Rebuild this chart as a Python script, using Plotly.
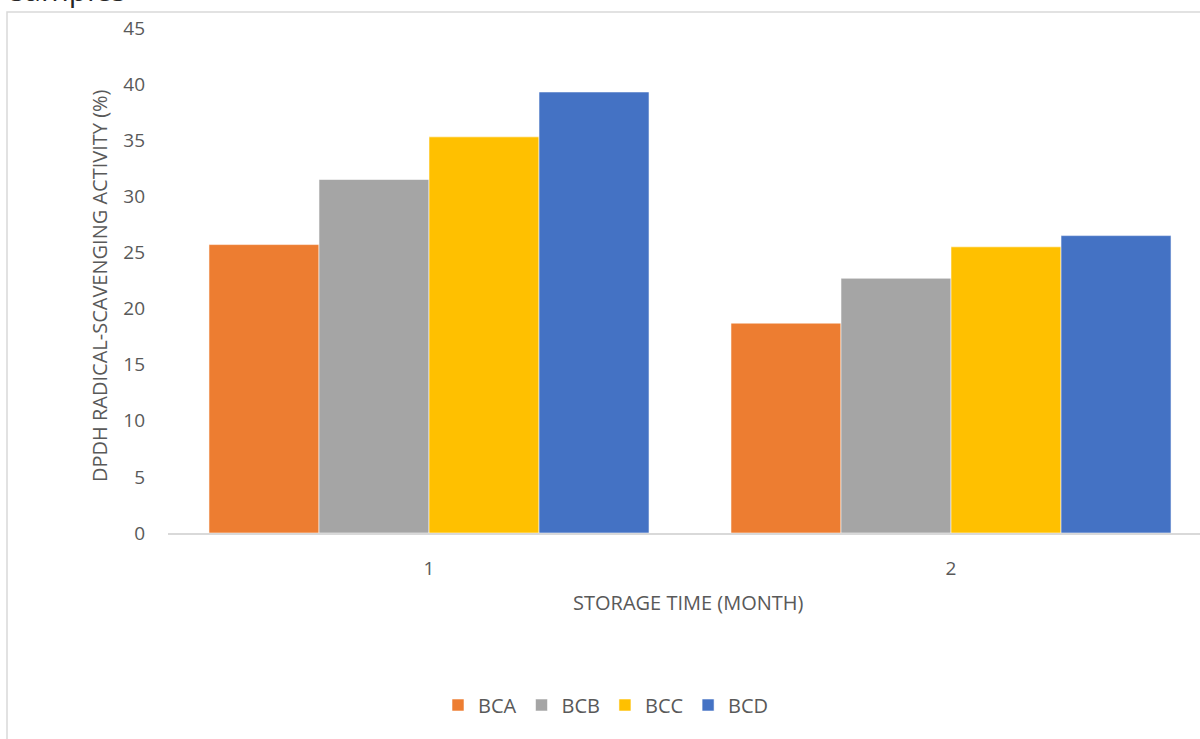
import plotly.graph_objects as go

# Storage time categories (months) and DPPH scavenging activity per formulation
months = ["1", "2"]
series_names = ["BCA", "BCB", "BCC", "BCD"]
bca = [25.7, 18.7]
bcb = [31.5, 22.7]
bcc = [35.3, 25.5]
bcd = [39.3, 26.5]
y_ticks = [0, 5, 10, 15, 20, 25, 30, 35, 40, 45]

colors = ["#ED7D31", "#A5A5A5", "#FFC000", "#4472C4"]
font_family = "Open Sans, Liberation Sans, sans-serif"
text_color = "#595959"
fs = 19

W, H = 1200, 739
left, right, top, bottom = 168, 0, 28, 206
plot_w = W - left - right
plot_h = H - top - bottom


def px_x(p):
    return (p - left) / plot_w


def px_y(p):
    return (H - bottom - p) / plot_h


fig = go.Figure()
for name, vals, col in zip(series_names, [bca, bcb, bcc, bcd], colors):
    fig.add_trace(go.Bar(
        x=months, y=vals, name=name,
        marker=dict(color=col, line=dict(color="rgba(255,255,255,0.55)", width=1)),
    ))

fig.update_layout(
    width=W, height=H,
    margin=dict(l=left, r=right, t=top, b=bottom, autoexpand=False),
    paper_bgcolor="white", plot_bgcolor="white",
    barmode="group", bargap=0.157, bargroupgap=0,
    font=dict(family=font_family, size=fs, color=text_color),
    showlegend=True,
    legend=dict(
        orientation="h", x=0.505, xref="container", xanchor="center",
        y=px_y(705), yanchor="middle",
        font=dict(size=fs + 1, color=text_color),
        itemclick=False, itemdoubleclick=False,
    ),
    xaxis=dict(
        type="category", range=[-0.5, 1.477],
        showline=True, linecolor="#D9D9D9", linewidth=1.5,
        showgrid=False, ticks="", ticklabelstandoff=17,
        tickfont=dict(size=fs, color=text_color),
        fixedrange=True,
    ),
    yaxis=dict(
        range=[0, 45], tickvals=y_ticks,
        showline=False, showgrid=False, zeroline=False,
        ticks="", ticklabelstandoff=22,
        tickfont=dict(size=fs, color=text_color),
        fixedrange=True,
    ),
    shapes=[
        # chart area border (top and left edges)
        dict(type="rect", xref="paper", yref="paper",
             x0=px_x(7), x1=px_x(1260), y0=px_y(800), y1=px_y(12),
             line=dict(color="#D9D9D9", width=1.5), fillcolor="rgba(0,0,0,0)",
             layer="below"),
    ],
    annotations=[
        dict(text="DPDH RADICAL-SCAVENGING ACTIVITY (%)", textangle=-90,
             xref="paper", yref="paper", x=px_x(99), y=px_y(286),
             xanchor="center", yanchor="middle", showarrow=False,
             font=dict(size=fs + 1, color=text_color)),
        dict(text="STORAGE TIME (MONTH)",
             xref="paper", yref="paper", x=px_x(688), y=px_y(602),
             xanchor="center", yanchor="middle", showarrow=False,
             font=dict(size=fs + 1, color=text_color)),
        dict(text="samples",
             xref="paper", yref="paper", x=px_x(8), y=px_y(12),
             xanchor="left", yanchor="bottom", showarrow=False,
             font=dict(size=30, color="#262626")),
    ],
)

fig.write_html("out.html")
